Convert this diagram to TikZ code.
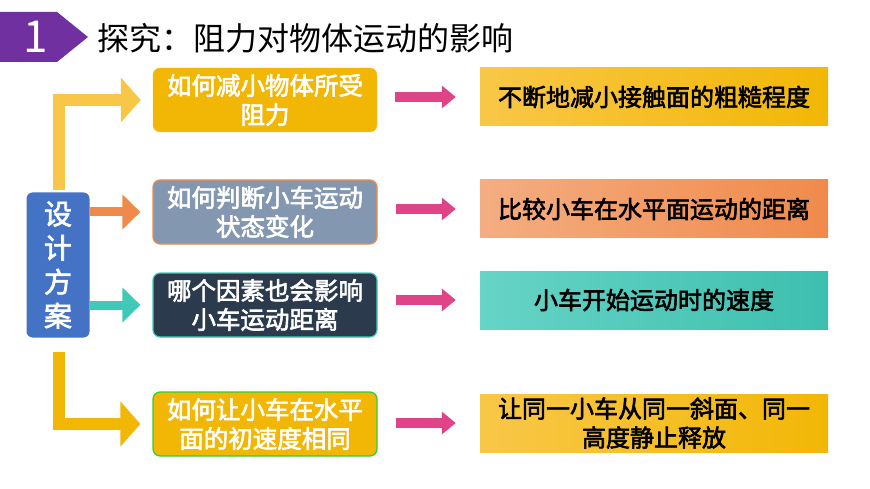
\documentclass[tikz,border=0pt]{standalone}
\usepackage{fontspec}
\setmainfont{Noto Sans CJK SC}
\newfontfamily\cjk{Noto Sans CJK SC}
\newfontfamily\cjkb[FakeBold=2.5]{Noto Sans CJK SC}
\usetikzlibrary{arrows.meta}
\definecolor{gold}{HTML}{F2B705}
\definecolor{goldl}{HTML}{F9C748}
\definecolor{slate}{HTML}{8497B0}
\definecolor{navy}{HTML}{2C3A4E}
\definecolor{org}{HTML}{F08A4B}
\definecolor{teal}{HTML}{40C9B8}
\definecolor{pinkA}{HTML}{E04488}
\definecolor{blu}{HTML}{4472C4}
\definecolor{purp}{HTML}{7030A0}
\tikzset{
 mid/.style={rounded corners=7pt,minimum width=224pt,minimum height=64pt,text width=224pt,align=center,text=white,inner sep=0pt,font=\cjkb\fontsize{24.5}{29}\selectfont},
 rgt/.style={minimum width=348pt,minimum height=58pt,text width=340pt,align=center,text=black,font=\cjkb\fontsize{24}{29}\selectfont},
 fat/.style={line width=12pt,-{Triangle[length=20pt,width=44pt]}},
 thin/.style={line width=10pt,pinkA,-{Triangle[length=14pt,width=22pt]}}
}
\begin{document}
\begin{tikzpicture}[x=1pt,y=-1pt]
\useasboundingbox (0,0) rectangle (870,489);
\fill[purp] (0,12) -- (57,12) -- (88,37) -- (57,62) -- (0,62) -- cycle;
\node[text=white,font=\rmfamily\fontsize{44}{44}\selectfont] (one) at (36,37) {1};
\node[anchor=west,font=\cjk\fontsize{32}{34}\selectfont] (title) at (94,38) {探究：阻力对物体运动的影响};
\node[fill=blu,rounded corners=6pt,minimum width=63pt,minimum height=145pt,text=white,align=center,font=\cjkb\fontsize{28}{34}\selectfont] (lb) at (58,265) {设\\计\\方\\案};
\node[mid,fill=gold,draw=gold!80!white] (m1) at (265,100) {如何减小物体所受\\阻力};
\node[mid,fill=slate,draw=org,line width=1.2pt] (m2) at (265,212) {如何判断小车运动\\状态变化};
\node[mid,fill=navy,draw=teal,line width=1.2pt] (m3) at (265,305) {哪个因素也会影响\\小车运动距离};
\node[mid,fill=gold,draw=green!60!gray,line width=1.2pt] (m4) at (265,424) {如何让小车在水平\\面的初速度相同};
\node[rgt,left color=goldl,right color=gold] (r1) at (654,97) {不断地减小接触面的粗糙程度};
\node[rgt,left color=org!70!white,right color=org] (r2) at (654,209) {比较小车在水平面运动的距离};
\node[rgt,left color=teal!80!white,right color=teal!95!black] (r3) at (654,300) {小车开始运动时的速度};
\node[rgt,left color=goldl,right color=gold,text width=340pt] (r4) at (654,423) {让同一小车从同一斜面、同一\\高度静止释放};
\coordinate (t1) at (59,190);
\coordinate (t4) at (59,352);
\draw[fat,goldl,shorten >=12pt] (t1) |- (m1.west);
\draw[fat,gold,shorten >=12pt] (t4) |- (m4.west);
\draw[line width=9pt,org,-{Triangle[length=18pt,width=34pt]},shorten >=12pt] (lb.east|-m2) -- (m2.west);
\draw[line width=9pt,teal,-{Triangle[length=18pt,width=34pt]},shorten >=12pt] (lb.east|-m3) -- (m3.west);
\foreach \i in {1,2,3,4}{
 \draw[thin,shorten <=18pt,shorten >=24pt] (m\i.east|-r\i) -- (r\i.west);
}
\end{tikzpicture}
\end{document}
